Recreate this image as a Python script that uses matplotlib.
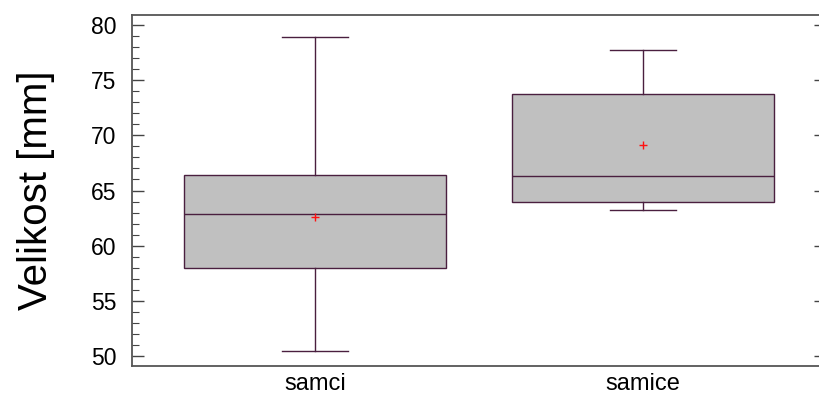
import matplotlib
matplotlib.use("Agg")
import matplotlib.pyplot as plt
from matplotlib.ticker import MultipleLocator

plt.rcParams['font.family'] = ['Liberation Sans', 'DejaVu Sans']

categories = ["samci", "samice"]
whisker_low = [50.5, 63.2]
q1 = [58.0, 64.0]
median = [62.9, 66.3]
q3 = [66.4, 73.7]
whisker_high = [78.9, 77.7]
mean = [62.6, 69.1]

stats = []
for i, c in enumerate(categories):
    stats.append(dict(label=c, whislo=whisker_low[i], q1=q1[i], med=median[i],
                      q3=q3[i], whishi=whisker_high[i], mean=mean[i], fliers=[]))

fig = plt.figure(figsize=(8.19, 4.01), dpi=100)
ax = fig.add_axes([132/819, 1-366/401, (826-132)/819, (366-15)/401])

edge = '#4a1f3f'
ax.bxp(stats, positions=[1, 2], widths=0.8, patch_artist=True, showmeans=True,
       showfliers=False,
       boxprops=dict(facecolor='#c0c0c0', edgecolor=edge, linewidth=1.0),
       medianprops=dict(color=edge, linewidth=1.0),
       whiskerprops=dict(color=edge, linewidth=1.0),
       capprops=dict(color=edge, linewidth=1.0),
       capwidths=0.2,
       meanprops=dict(marker='+', markeredgecolor='#ff1010', markersize=6, markeredgewidth=1.0))

ax.set_xlim(1 - 183/328, 2 + 183/328)
ax.set_ylim(49.1, 80.9)
ax.yaxis.set_major_locator(MultipleLocator(5))
ax.yaxis.set_minor_locator(MultipleLocator(1))
ax.tick_params(axis='y', which='major', direction='in', length=8.4, width=1.0,
               color='#444444', labelsize=16.5, pad=11, right=True)
ax.tick_params(axis='y', which='minor', direction='in', length=4.8, width=0.8,
               color='#444444', left=True, right=False)
ax.tick_params(axis='x', length=0, labelsize=17, pad=5)
ax.set_xticks([1, 2])
ax.set_xticklabels(categories)
for s in ax.spines.values():
    s.set_color('#555555')
    s.set_linewidth(1.3)
ax.set_ylabel('Velikost [mm]', fontsize=29, labelpad=26)

fig.savefig('out.png', dpi=100)
